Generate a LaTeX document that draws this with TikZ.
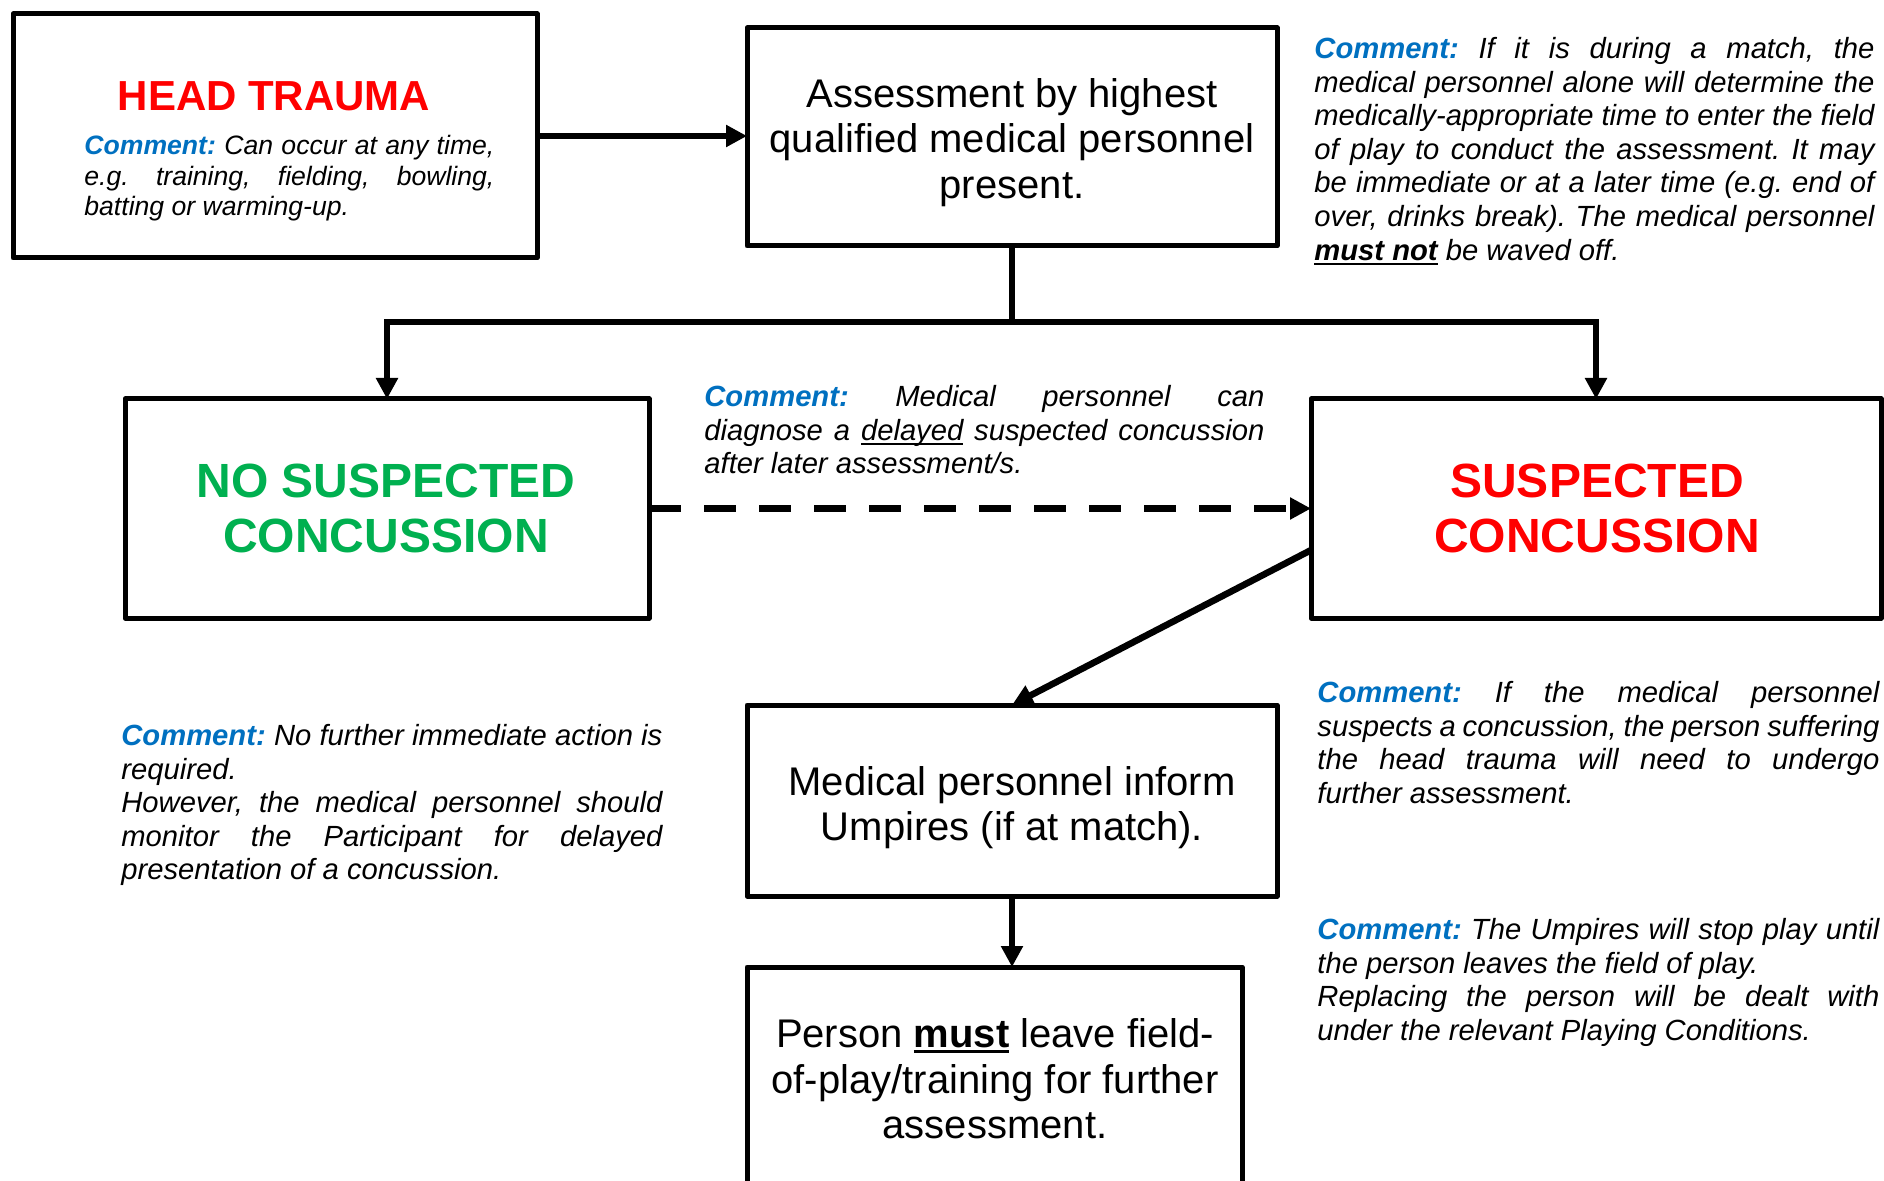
\documentclass[tikz,border=0pt]{standalone}
\usepackage{fontspec}
\setmainfont{Liberation Sans}
\usetikzlibrary{arrows.meta,calc}
\definecolor{cblue}{HTML}{0070C0}
\definecolor{cgreen}{HTML}{00B050}
\definecolor{cred}{HTML}{FF0000}
\frenchspacing
\newcommand{\cfont}{\fontsize{14.6}{16.8}\selectfont\itshape}
\newcommand{\hfont}{\fontsize{13.3}{15.3}\selectfont\itshape}
\newcommand{\bfont}{\fontsize{20}{22.8}\selectfont}
\newcommand{\lfont}{\fontsize{24}{27.5}\selectfont\bfseries}
\newcommand{\htfont}{\fontsize{21}{25}\selectfont\bfseries}
\newcommand{\cmt}{\textcolor{cblue}{\bfseries Comment:}}
\newcommand{\jl}[2]{\makebox[#1][s]{#2}}
\newcommand{\thul}[1]{\setbox0=\hbox{#1}\rlap{\rule[-2.6pt]{\wd0}{1.3pt}}\box0\relax}
\newcommand{\thinul}[1]{\setbox0=\hbox{#1}\rlap{\rule[-2.4pt]{\wd0}{0.8pt}}\box0\relax}
\begin{document}
\begin{tikzpicture}[x=0.5pt,y=-0.5pt,
  box/.style={draw,line width=2.5pt,line join=round,inner sep=0pt,outer sep=0pt},
  conn/.style={line width=3.3pt,line join=miter},
  arr/.style={conn,-{Triangle[length=10.5pt,width=10.5pt]}},
  cmtnode/.style={anchor=north west,inner sep=0pt,align=left,font=\cfont},
  boxtext/.style={inner sep=0pt,align=center,font=\bfont},
  big/.style={inner sep=0pt,align=center,font=\lfont}]
\useasboundingbox (0,0) rectangle (1884,1181);
\clip (0,0) rectangle (1884,1181);
\fill[white] (0,0) rectangle (1884,1181);

% boxes
\node[box,minimum width=262pt,minimum height=122pt] (head) at (275,136) {};
\node[box,minimum width=265pt,minimum height=109pt] (assess) at (1012,137) {};
\node[box,minimum width=262pt,minimum height=109.5pt] (nosc) at (387,508.5) {};
\node[box,minimum width=285pt,minimum height=109.5pt] (sc) at (1596,508.5) {};
\node[box,minimum width=265pt,minimum height=95.5pt] (inform) at (1012,800.5) {};
\node[box,minimum width=247.5pt,minimum height=150pt] (person) at (994.5,1117) {};

% box texts
\node[font=\htfont,text=cred,inner sep=0pt] (htt) at (274,96) {HEAD TRAUMA};
\node[cmtnode,font=\hfont] (htc) at (84,135) {\jl{205pt}{\cmt{} Can occur at any time,}\\\jl{205pt}{e.g. training, fielding, bowling,}\\batting or warming-up.};
\node[boxtext] (asst) at (1012,142.5) {Assessment by highest\\qualified medical personnel\\present.};
\node[big,text=cgreen] (nosct) at (386,508) {NO SUSPECTED\\CONCUSSION};
\node[big,text=cred] (sct) at (1597,508) {SUSPECTED\\CONCUSSION};
\node[boxtext] (inft) at (1012,807.5) {Medical personnel inform\\Umpires (if at match).};
\node[boxtext] (pert) at (995,1079) {Person \thul{\textbf{must}} leave field-\\of-play/training for further\\assessment.};

% comments
\node[cmtnode] (c1) at (1314,37) {\jl{280pt}{\cmt{} If it is during a match, the}\\
\jl{280pt}{medical personnel alone will determine the}\\
\jl{280pt}{medically-appropriate time to enter the field}\\
\jl{280pt}{of play to conduct the assessment. It may}\\
\jl{280pt}{be immediate or at a later time (e.g. end of}\\
\jl{280pt}{over, drinks break). The medical personnel}\\
\thul{\bfseries must not} be waved off.};
\node[cmtnode] (c2) at (704,385) {\jl{280pt}{\cmt{} Medical personnel can}\\
\jl{280pt}{diagnose a \thinul{delayed} suspected concussion}\\
after later assessment/s.};
\node[cmtnode] (c3) at (121,724) {\jl{270.5pt}{\cmt{} No further immediate action is}\\
required.\\
\jl{270.5pt}{However, the medical personnel should}\\
\jl{270.5pt}{monitor the Participant for delayed}\\
presentation of a concussion.};
\node[cmtnode] (c4) at (1317,681) {\jl{281pt}{\cmt{} If the medical personnel}\\
\jl{281pt}{suspects a concussion, the person suffering}\\
\jl{281pt}{the head trauma will need to undergo}\\
further assessment.};
\node[cmtnode] (c5) at (1317,918) {\jl{281pt}{\cmt{} The Umpires will stop play until}\\
the person leaves the field of play.\\
\jl{281pt}{Replacing the person will be dealt with}\\
under the relevant Playing Conditions.};

% connectors
\draw[arr] (head.east) -- (head.east -| assess.west);
\draw[conn] (assess.south) -- ++(0,76) coordinate (split);
\draw[arr] (split) -| (nosc.north);
\draw[arr] (split) -| (sc.north);
\draw[arr,dash pattern=on 16pt off 11.5pt] (nosc.east) -- (sc.west);
\coordinate (diagstart) at ($(sc.north west)!0.69!(sc.south west)$);
\draw[arr] (diagstart) -- (inform.north);
\draw[arr] (inform.south) -- (inform.south |- person.north);
\end{tikzpicture}
\end{document}
